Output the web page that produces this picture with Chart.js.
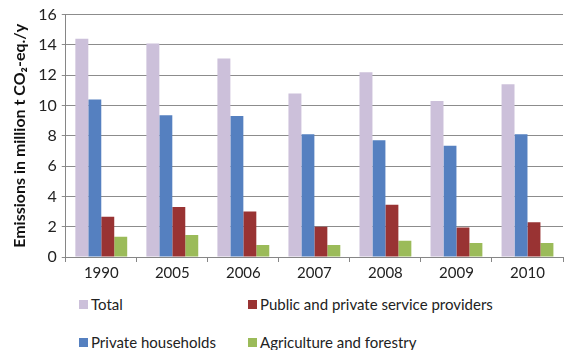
<!DOCTYPE html>
<html lang="en">
<head>
<meta charset="UTF-8">
<title>Emissions</title>
<script src="https://cdn.jsdelivr.net/npm/chart.js"></script>
<style>
  body { margin: 0; background: #fff; font-family: Lato, "Open Sans", sans-serif; }
  #wrap { position: relative; width: 565px; height: 350px; }
  #legend {
    position: absolute; left: 79px; top: 295px;
    display: grid; grid-template-columns: 169px 300px; row-gap: 20px;
    font-size: 15px; color: #222;
  }
  .item { display: flex; align-items: center; height: 18px; }
  .sw { width: 9px; height: 9px; margin-right: 3px; }
</style>
</head>
<body>
<div id="wrap">
  <canvas id="chart" width="565" height="284"></canvas>
  <div id="legend"></div>
</div>
<script>
  // data
  const years = ['1990', '2005', '2006', '2007', '2008', '2009', '2010'];
  const total = [14.4, 14.1, 13.1, 10.8, 12.2, 10.3, 11.4];
  const households = [10.4, 9.35, 9.3, 8.1, 7.7, 7.35, 8.1];
  const services = [2.65, 3.3, 3.0, 2.0, 3.45, 1.95, 2.3];
  const agriculture = [1.33, 1.45, 0.8, 0.8, 1.08, 0.93, 0.93];
  const yTicks = [0, 2, 4, 6, 8, 10, 12, 14, 16];

  const series = [
    { label: 'Total', data: total, color: '#CCC0DA' },
    { label: 'Private households', data: households, color: '#5580C0' },
    { label: 'Public and private service providers', data: services, color: '#993333' },
    { label: 'Agriculture and forestry', data: agriculture, color: '#9BBB59' }
  ];

  new Chart(document.getElementById('chart'), {
    type: 'bar',
    data: {
      labels: years,
      datasets: series.map(s => ({
        label: s.label, data: s.data, backgroundColor: s.color,
        barPercentage: 1, categoryPercentage: 0.73
      }))
    },
    options: {
      responsive: false,
      animation: false,
      layout: { padding: { top: 10, right: 2, left: 6, bottom: 0 } },
      plugins: { legend: { display: false }, tooltip: { enabled: false } },
      scales: {
        x: {
          grid: { offset: true, drawOnChartArea: false, color: '#868686', tickLength: 5 },
          border: { color: '#868686' },
          ticks: { color: '#222', font: { family: 'Lato', size: 15 }, padding: 2 }
        },
        y: {
          min: 0, max: 16,
          afterBuildTicks: axis => { axis.ticks = yTicks.map(v => ({ value: v })); },
          grid: { color: '#8c8c8c', tickLength: 4 },
          border: { color: '#868686' },
          ticks: { color: '#222', font: { family: 'Lato', size: 16 }, padding: 5 },
          title: {
            display: true, text: 'Emissions in million t CO\u2082-eq./y',
            color: '#111', font: { family: 'Lato', size: 16, weight: 'bold' }, padding: 4
          }
        }
      }
    }
  });

  // legend laid out in two columns like the original
  const order = [0, 2, 1, 3];
  const legend = document.getElementById('legend');
  order.forEach(i => {
    const s = series[i];
    const d = document.createElement('div');
    d.className = 'item';
    d.innerHTML = '<span class="sw" style="background:' + s.color + '"></span>' + s.label;
    legend.appendChild(d);
  });
</script>
</body>
</html>
